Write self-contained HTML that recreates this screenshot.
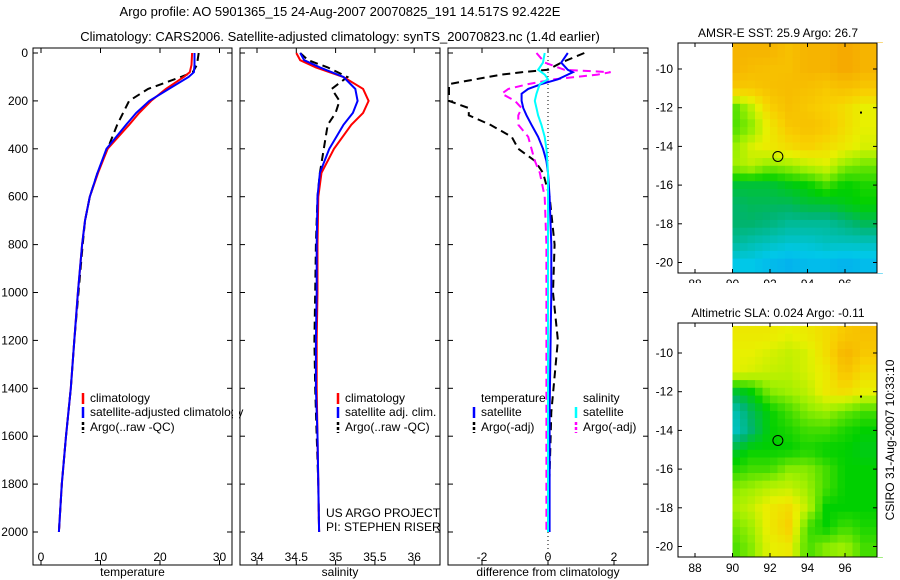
<!DOCTYPE html>
<html><head><meta charset="utf-8"><style>
body{margin:0;background:#fff}
svg{display:block;font-family:"Liberation Sans",sans-serif}
</style></head><body>
<svg id="s" width="900" height="580" viewBox="0 0 900 580">
<text x="340" y="16" text-anchor="middle" font-size="13">Argo profile: AO 5901365_15 24-Aug-2007 20070825_191 14.517S 92.422E</text>
<text x="340" y="41" text-anchor="middle" font-size="13">Climatology: CARS2006. Satellite-adjusted climatology: synTS_20070823.nc (1.4d earlier)</text>
<text x="0" y="0" font-size="12" transform="translate(894,440) rotate(-90)" text-anchor="middle">CSIRO 31-Aug-2007 10:33:10</text>
</svg>
<script>
// ---- data ----
const depthT=[0,50,80,100,150,200,250,300,400,500,600,700,800,1000,1200,1400,1600,1800,2000];
const climT=[25.4,25.3,25.0,24,21,18.5,16.5,14.8,11.2,9.6,8.2,7.4,6.9,6.2,5.6,5.0,4.2,3.5,3.0];
const satT=[25.8,25.8,25.7,24.8,21.5,18.2,16,14.3,11,9.5,8.2,7.4,6.9,6.2,5.6,5.0,4.2,3.5,3.0];
const argoT=[26.5,26.2,25.5,23.5,18,14.8,13.8,12.8,11.2,9.5,8.2,7.4,7.0,6.3,5.6,5.0,4.2,3.5,3.0];
const depthS=[0,30,60,100,150,200,250,300,400,500,600,800,1000,1200,1400,1600,1800,2000];
const climS=[34.5,34.55,34.75,35.1,35.35,35.42,35.35,35.2,34.98,34.82,34.78,34.77,34.77,34.76,34.76,34.77,34.78,34.79];
const satS=[34.55,34.6,34.8,35.1,35.25,35.28,35.22,35.1,34.92,34.8,34.77,34.76,34.76,34.75,34.75,34.77,34.78,34.79];
const argoS=[34.55,34.65,34.9,35.15,34.95,35.05,35.0,34.9,34.85,34.8,34.77,34.75,34.74,34.73,34.74,34.76,34.78,34.79];
const depthD=[0,40,70,80,90,110,130,150,170,200,230,260,300,350,400,450,500,600,800,1000,1200,1500,2000];
const dTargo=[1.1,0.4,0,-0.8,-1.4,-2.2,-3,-3,-3,-3,-2.4,-2.4,-1.75,-1.1,-0.9,-0.4,-0.15,0.05,0.2,0.15,0.3,0.1,0.0];
const dTsat=[0.6,0.4,0.6,0.75,0.6,0.3,-0.2,-0.6,-0.8,-0.8,-0.75,-0.65,-0.5,-0.3,-0.15,-0.05,0.0,0.05,0.1,0.1,0.08,0.05,0.05];
const dSargo=[-0.35,-0.1,0.5,1.9,1.5,0.2,-0.6,-1.2,-1.4,-1.0,-0.8,-0.9,-0.9,-0.6,-0.5,-0.4,-0.25,-0.1,-0.05,-0.05,-0.05,-0.05,-0.05];
const dSsat=[-0.1,-0.15,-0.3,-0.2,-0.1,0.0,-0.25,-0.3,-0.35,-0.4,-0.35,-0.3,-0.2,-0.1,-0.05,-0.02,0,0,0,0,0,0,0];
const depthTicks=[0,200,400,600,800,1000,1200,1400,1600,1800,2000];
const tTicks=[0,10,20,30];
const sTicks=[34,34.5,35,35.5,36];
const dTicks=[-2,0,2];
const mapLats=[-9,-10,-11,-12,-13,-14,-15,-16,-17,-18,-19,-20];
const mapLons=[90,91,92,93,94,95,96,97];
const sstRows=[
[.85,.85,.85,.82,.85,.85,.88,.85],[.85,.83,.82,.82,.85,.85,.88,.85],[.8,.8,.82,.83,.82,.8,.82,.8],
[.55,.65,.78,.82,.8,.78,.75,.7],[.55,.6,.72,.8,.82,.8,.75,.7],[.6,.68,.72,.75,.78,.75,.72,.68],
[.62,.65,.6,.62,.65,.68,.6,.58],[.45,.45,.45,.48,.5,.55,.5,.52],[.4,.42,.42,.42,.45,.45,.48,.5],
[.4,.4,.38,.35,.35,.35,.38,.42],[.35,.32,.3,.28,.28,.3,.3,.3],[.25,.25,.22,.2,.22,.22,.2,.22]];
const slaRows=[
[.72,.72,.72,.7,.72,.75,.8,.82],[.7,.7,.68,.66,.68,.75,.85,.8],[.7,.68,.66,.65,.68,.72,.82,.75],
[.45,.5,.6,.62,.65,.72,.75,.7],[.3,.42,.5,.55,.6,.62,.58,.55],[.28,.4,.5,.52,.55,.55,.52,.5],
[.45,.5,.5,.5,.52,.5,.5,.48],[.52,.55,.55,.6,.6,.55,.5,.5],[.6,.62,.65,.66,.62,.55,.5,.5],
[.62,.66,.72,.75,.65,.5,.5,.5],[.58,.62,.72,.78,.55,.5,.55,.52],[.55,.6,.7,.72,.55,.6,.62,.55]];
const mapLatTicks=[-10,-12,-14,-16,-18,-20];
const mapLonTicks=[88,90,92,94,96];
const argoPos=[92.42,-14.52];

const S=document.getElementById('s');const NS='http://www.w3.org/2000/svg';
function el(t,a,p){const e=document.createElementNS(NS,t);for(const k in a)e.setAttribute(k,a[k]);(p||S).appendChild(e);return e;}
const yD=d=>53+d*0.2395;
function panel(x0,x1,xs,ticks,fmt,title,name,ylab){
  const g=el('g',{});
  
  
  const b=el('rect',{x:x0,y:48,width:x1-x0,height:517,fill:'none',stroke:'#000'},g);
  
  
  ticks.forEach(v=>{const x=xs(v);
    el('line',{x1:x,x2:x,y1:565,y2:560,stroke:'#000'},g);el('line',{x1:x,x2:x,y1:48,y2:53,stroke:'#000'},g);
    const t=el('text',{x:x,y:561,'font-size':12,'text-anchor':'middle'},g);t.textContent=fmt(v);
    
    });
  depthTicks.forEach(d=>{const y=yD(d);
    el('line',{x1:x0,x2:x0+5,y1:y,y2:y,stroke:'#000'},g);el('line',{x1:x1,x2:x1-5,y1:y,y2:y,stroke:'#000'},g);
    if(ylab){const t=el('text',{x:x0-5,y:y+4,'font-size':12,'text-anchor':'end'},g);t.textContent=d;
      
      }});
  const tt=el('text',{x:(x0+x1)/2,y:576,'font-size':12,'text-anchor':'middle'},g);tt.textContent=title;
  
  
  return g;
}
function line(depths,vals,xs,color,dash,name,w){
  const pts=depths.map((d,i)=>xs(vals[i]).toFixed(1)+','+yD(d).toFixed(1)).join(' ');
  const p=el('polyline',{points:pts,fill:'none',stroke:color,'stroke-width':w||2,'stroke-dasharray':dash||'none'});
  
  
}
function legend(x,y,color,dash,text,name){
  const l=el('line',{x1:x,x2:x,y1:y-9,y2:y+2,stroke:color,'stroke-width':2.5,'stroke-dasharray':dash||'none'});
  
  
  const t=el('text',{x:x+7,y:y,'font-size':12});t.textContent=text;
  
  
}
// panel 1
const xT=v=>41+v*5.95;
panel(33,232,xT,tTicks,v=>v,'temperature','temperature-panel',true);
line(depthT,argoT,xT,'#000','8,5','argo-temperature-line');
line(depthT,climT,xT,'#f00',null,'climatology-temperature-line');
line(depthT,satT,xT,'#0000ff',null,'satellite-temperature-line');
// panel 2
const xS=v=>257+(v-34)*78.6;
panel(240,440,xS,sTicks,v=>v,'salinity','salinity-panel',false);
line(depthS,argoS,xS,'#000','8,5','argo-salinity-line');
line(depthS,climS,xS,'#f00',null,'climatology-salinity-line');
line(depthS,satS,xS,'#0000ff',null,'satellite-salinity-line');
// panel 3
const xDf=v=>548+v*33;
panel(448,648,xDf,dTicks,v=>v,'difference from climatology','difference-panel',false);
const z=el('line',{x1:548,x2:548,y1:48,y2:565,stroke:'#000','stroke-dasharray':'1,3'});


line(depthD,dTargo,xDf,'#000','8,5','argo-temperature-diff-line');
line(depthD,dSargo,xDf,'#ff00ff','8,5','argo-salinity-diff-line');
line(depthD,dTsat,xDf,'#0000ff',null,'satellite-temperature-diff-line');
line(depthD,dSsat,xDf,'#00ffff',null,'satellite-salinity-diff-line');
legend(83,402,'#f00',null,'climatology','legend-climatology');
legend(83,416,'#0000ff',null,'satellite-adjusted climatology','legend-satellite-adjusted');
legend(83,431,'#000','3,2','Argo(..raw -QC)','legend-argo');
el('rect',{x:233,y:400,width:6,height:25,fill:'#fff'});
legend(338,402,'#f00',null,'climatology','legend2-climatology');
legend(338,416,'#0000ff',null,'satellite adj. clim.','legend2-satellite');
legend(338,431,'#000','3,2','Argo(..raw -QC)','legend2-argo');
const t1=el('text',{x:481,y:402,'font-size':12});t1.textContent='temperature';


const t2=el('text',{x:583,y:402,'font-size':12});t2.textContent='salinity';


legend(474,416,'#0000ff',null,'satellite','legend3-temp-satellite');
legend(576,416,'#00ffff',null,'satellite','legend3-sal-satellite');
legend(474,431,'#000','3,2','Argo(-adj)','legend3-temp-argo');
legend(576,431,'#ff00ff','3,2','Argo(-adj)','legend3-sal-argo');
const u1=el('text',{x:326,y:517,'font-size':12});u1.textContent='US ARGO PROJECT';


const u2=el('text',{x:326,y:531,'font-size':12});u2.textContent='PI: STEPHEN RISER';


// maps
const stops=[[0,[16,96,255]],[.25,[0,200,232]],[.4,[0,180,110]],[.5,[0,208,0]],[.62,[160,240,0]],[.7,[232,240,0]],[.78,[248,208,0]],[.9,[245,160,0]]];
function cmap(v){for(let i=1;i<stops.length;i++){if(v<=stops[i][0]){const a=stops[i-1],b=stops[i],f=(v-a[0])/(b[0]-a[0]);return 'rgb('+a[1].map((c,k)=>Math.round(c+(b[1][k]-c)*f)).join(',')+')';}}return 'rgb(245,160,0)';}
function interp(rows,lon,lat){
  let fi=(mapLats[0]-lat),fj=(lon-mapLons[0]);
  fi=Math.max(0,Math.min(mapLats.length-1.001,fi));fj=Math.max(0,Math.min(mapLons.length-1.001,fj));
  const i=Math.floor(fi),j=Math.floor(fj),a=fi-i,b=fj-j;
  return rows[i][j]*(1-a)*(1-b)+rows[i+1][j]*a*(1-b)+rows[i][j+1]*(1-a)*b+rows[i+1][j+1]*a*b;
}
function map(top,bot,latRef,rows,title,name){
  const xL=lon=>695+(lon-88)*18.75;
  const yL=lat=>latRef+(-10-lat)*19.35;
  const g=el('g',{});
  
  
  for(let lat=-8.6;lat>-20.8;lat-=0.4){for(let lon=90;lon<97.8;lon+=0.4){
    const v=interp(rows,lon+0.2,lat-0.2);
    el('rect',{x:xL(lon).toFixed(1),y:yL(lat).toFixed(1),width:7.9,height:8.2,fill:cmap(v)},g);}}
  const fr=el('rect',{x:678,y:top,width:199,height:bot-top,fill:'none',stroke:'#000'},g);
  el('rect',{x:677,y:top-40,width:220,height:40-0.5,fill:'#fff'},g);
  el('rect',{x:677,y:bot+0.5,width:220,height:40,fill:'#fff'},g);
  el('rect',{x:877.5,y:top,width:8,height:bot-top,fill:'#fff'},g);
  g.appendChild(fr);
  
  
  mapLatTicks.forEach(l=>{const y=yL(l);el('line',{x1:678,x2:682,y1:y,y2:y,stroke:'#000'},g);el('line',{x1:877,x2:873,y1:y,y2:y,stroke:'#000'},g);
    const t=el('text',{x:673,y:y+4,'font-size':12,'text-anchor':'end'},g);t.textContent=l;
    
    });
  mapLonTicks.forEach(l=>{const x=xL(l);el('line',{x1:x,x2:x,y1:top,y2:top+4,stroke:'#000'},g);el('line',{x1:x,x2:x,y1:bot,y2:bot-4,stroke:'#000'},g);
    const t=el('text',{x:x,y:bot+15,'font-size':12,'text-anchor':'middle'},g);t.textContent=l;
    
    });
  const c=el('circle',{cx:xL(argoPos[0]),cy:yL(argoPos[1]),r:5,fill:'none',stroke:'#000'},g);
  
  
  el('rect',{x:xL(96.8),y:yL(-12.2),width:2,height:2,fill:'#000'},g);
  const t=el('text',{x:778,y:top-6,'font-size':12,'text-anchor':'middle'},g);t.textContent=title;
  
  
}
map(43,273,69,sstRows,'AMSR-E SST: 25.9 Argo: 26.7','sst-map');
map(323,557,353,slaRows,'Altimetric SLA: 0.024 Argo: -0.11','sla-map');
</script>
</body></html>
